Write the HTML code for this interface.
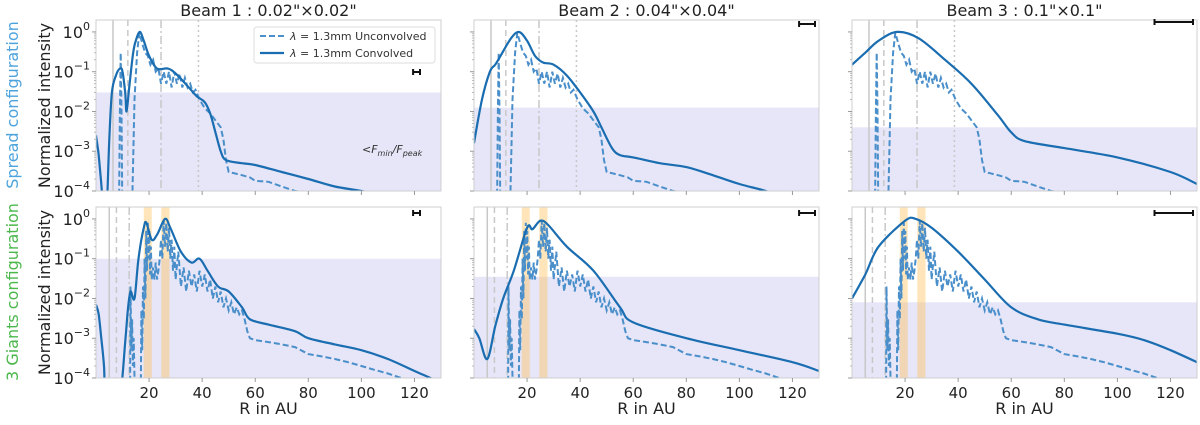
<!DOCTYPE html>
<html><head><meta charset="utf-8"><style>
body{margin:0;background:#fff;}
svg text{font-family:"DejaVu Sans","Liberation Sans",sans-serif;}
</style></head><body>
<svg id="chart" width="1200" height="420" viewBox="0 0 1200 420" xmlns="http://www.w3.org/2000/svg"></svg>
<script>
const beamTitles = ['Beam 1 : 0.02"\u00d70.02"','Beam 2 : 0.04"\u00d70.04"','Beam 3 : 0.1"\u00d70.1"'];
const xTicks = [20,40,60,80,100,120];
const yTickExp = [0,-1,-2,-3,-4];
const shadeTop = [0.03,0.0125,0.004];
const shadeBot = [0.1,0.035,0.008];
const beamWidthAU = [2.6,6,14.5];
const vlinesTop = [6.4,12,24.5,38.6];
const vlinesBot = [5,7.7,12.5];
const bandsBot = [[18,21],[24.6,27.7]];
// top-row unconvolved
const topUR = [8.6,9.0,9.3,9.6,10.0,13.4,14.5,15.5,16.3,17.5,
 18.5,19.5,20.5,21.5,22.5,23.5,24.5,25.5,26.5,27.5,
 28.5,29.5,30.5,31.5,32.5,33.5,34.5,35.5,36.5,37.5,
 39,41,43,45,47,48,49,50,52,55,
 58,60,65,70,75,80,85,90];
const topUV = [1e-5,0.01,0.3,0.01,1e-5,1e-5,0.02,0.3,0.95,0.5,
 0.3,0.25,0.15,0.2,0.1,0.12,0.05,0.1,0.05,0.1,
 0.04,0.1,0.05,0.09,0.04,0.07,0.04,0.05,0.03,0.035,
 0.02,0.012,0.009,0.006,0.004,0.002,0.0006,0.0003,0.00028,0.00025,
 0.00022,0.00018,0.00017,0.00013,0.0001,0.00009,0.00007,0.00005];
// bottom-row unconvolved
const botUR = [12.8,13.0,13.3,13.6,13.9,14.2,14.5,14.8,16.8,17.1,
 17.4,17.7,18.0,18.3,18.6,18.9,19.2,19.5,19.8,20.1,
 20.4,20.7,21.0,21.5,22,22.5,23,23.5,24,24.5,
 25,25.5,26,26.5,27,27.5,28,28.5,29,29.5,
 30,31,32,33,34,35,36,37,38,39,
 40,41,42,43,44,45,46,47,48,49,
 50,51,52,53,54,55,56,57,58,60,
 65,70,75,80,85,90,95,100,105,110,
 115,120];
const botUV = [1e-5,0.02,0.0005,0.003,0.0002,0.001,0.0001,1e-5,1e-5,0.005,
 0.0005,0.02,0.003,0.1,0.01,0.5,0.05,0.8,0.1,0.5,
 0.04,0.2,0.03,0.06,0.03,0.08,0.03,0.05,0.1,0.3,
 0.1,0.9,0.2,0.8,0.15,0.6,0.1,0.3,0.05,0.2,
 0.03,0.15,0.02,0.06,0.015,0.05,0.02,0.04,0.015,0.05,
 0.02,0.04,0.015,0.03,0.01,0.02,0.008,0.015,0.006,0.01,
 0.005,0.008,0.004,0.006,0.004,0.005,0.003,0.0015,0.001,0.0009,
 0.0008,0.0007,0.0006,0.0004,0.00035,0.0003,0.00025,0.0002,0.00016,0.00013,
 0.0001,0.00007];
// convolved
const c1tR = [0,1,2,3,4,5,6,7.5,9,10,11,11.5,12.5,14,15,16.5,18,20,23,27,30,35,38,41,43,45,47,49,55,60,70,80,90,100,110];
const c1tV = [0.0025,0.0008,0.00015,0.00002,0.00003,0.002,0.03,0.08,0.12,0.1,0.03,0.01,0.04,0.3,0.6,1.0,0.6,0.25,0.12,0.12,0.09,0.04,0.024,0.017,0.009,0.003,0.001,0.0006,0.0005,0.00045,0.0003,0.0002,0.00013,0.0001,0.00007];
const c2tR = [0,3,6,8,10,14,17,20,23,26,30,35,40,45,48,52,55,60,70,80,90,100,110,120];
const c2tV = [0.0016,0.02,0.1,0.15,0.25,0.7,1.0,0.6,0.25,0.17,0.15,0.08,0.03,0.01,0.004,0.0012,0.0008,0.0007,0.0005,0.0004,0.00025,0.00015,0.0001,0.00006];
const c3tR = [0,5,10,17,25,35,45,55,60,65,80,100,120,130];
const c3tV = [0.15,0.3,0.6,1.0,0.7,0.2,0.05,0.008,0.003,0.0018,0.0012,0.0007,0.0003,0.00015];
const c1bR = [0,1,2,3,3.6,6,9,11,12,13,14.5,16,18,19,21,23,26,28,32,36,39,42,46,50,55,58,65,75,80,90,100,110,120,126,130];
const c1bV = [0.007,0.004,0.001,0.0002,0.00003,0.00002,0.00003,0.0008,0.005,0.015,0.01,0.1,0.6,0.8,0.3,0.4,1.0,0.6,0.15,0.08,0.1,0.05,0.02,0.015,0.006,0.003,0.0022,0.0015,0.001,0.0007,0.0005,0.0003,0.00015,0.0001,0.00007];
const c2bR = [0,2,5,8,11,15,20,22,25,28,35,45,55,60,80,100,120,130];
const c2bV = [0.0017,0.001,0.0003,0.002,0.01,0.05,0.6,0.55,0.9,0.7,0.2,0.05,0.006,0.0025,0.001,0.0005,0.00025,0.00015];
const c3bR = [0,5,10,20,24,30,40,50,60,70,80,100,110,120,130];
const c3bV = [0.01,0.04,0.2,0.9,1.0,0.6,0.15,0.03,0.006,0.003,0.0022,0.0013,0.0009,0.0005,0.00025];

const panelsL = [96,474,852], PW = 345;
const rowsT = [20,207], PH = 171;
const logMax = 0.3, logMin = -4, xMax = 130;
const svg = document.getElementById('chart');
const NS = 'http://www.w3.org/2000/svg';
function mk(tag, attrs, parent){const e=document.createElementNS(NS,tag);for(const k in attrs)e.setAttribute(k,attrs[k]);(parent||svg).appendChild(e);return e;}
function xs(c,r){return panelsL[c]+PW*r/xMax;}
function ys(row,v){const l=Math.max(Math.log10(v),-6);return rowsT[row]+PH*(logMax-l)/(logMax-logMin);}
function smooth(pts){let d='M'+pts[0][0].toFixed(1)+','+pts[0][1].toFixed(1);
 for(let i=0;i<pts.length-1;i++){const p0=pts[Math.max(i-1,0)],p1=pts[i],p2=pts[i+1],p3=pts[Math.min(i+2,pts.length-1)];
 const c1=[p1[0]+(p2[0]-p0[0])/6,p1[1]+(p2[1]-p0[1])/6],c2=[p2[0]-(p3[0]-p1[0])/6,p2[1]-(p3[1]-p1[1])/6];
 d+=' C'+c1[0].toFixed(1)+','+c1[1].toFixed(1)+' '+c2[0].toFixed(1)+','+c2[1].toFixed(1)+' '+p2[0].toFixed(1)+','+p2[1].toFixed(1);}return d;}
function poly(pts){return 'M'+pts.map(p=>p[0].toFixed(1)+','+p[1].toFixed(1)).join(' L');}

const conv = [[c1tR,c1tV],[c2tR,c2tV],[c3tR,c3tV],[c1bR,c1bV],[c2bR,c2bV],[c3bR,c3bV]];
for(let row=0;row<2;row++){for(let c=0;c<3;c++){
 const L=panelsL[c],T=rowsT[row];
 const g=mk('g',{});
 
 
 const cid='clip'+row+c;
 const cp=mk('clipPath',{id:cid},g);mk('rect',{x:L,y:T,width:PW,height:PH},cp);
 const sv=(row===0?shadeTop:shadeBot)[c];
 const sh=mk('rect',{x:L,y:ys(row,sv),width:PW,height:T+PH-ys(row,sv),fill:'#e6e6f8'},g);
 
 
 if(row===1){for(const b of bandsBot){const br=mk('rect',{x:xs(c,b[0]),y:T,width:xs(c,b[1])-xs(c,b[0]),height:PH,fill:'rgba(255,190,80,0.4)'},g);
  
  }}
 const vl=row===0?vlinesTop:vlinesBot;const dashes=['', '6,4','8,3,2,3','2,3'];
 vl.forEach((r,i)=>{const ln=mk('line',{x1:xs(c,r),x2:xs(c,r),y1:T,y2:T+PH,stroke:'#c8c8c8','stroke-width':1.5,'stroke-dasharray':dashes[i]},g);
  
  });
 const UR=row===0?topUR:botUR, UV=row===0?topUV:botUV;
 const up=UR.map((r,i)=>[xs(c,r),ys(row,UV[i])]);
 const pu=mk('path',{d:poly(up),fill:'none',stroke:'#4a8fca','stroke-width':2,'stroke-dasharray':'6,3','clip-path':'url(#'+cid+')'},g);
 
 
 const cv=conv[row*3+c];
 const cpn=cv[0].map((r,i)=>[xs(c,r),ys(row,cv[1][i])]);
 const pc=mk('path',{d:smooth(cpn),fill:'none',stroke:'#1a6db0','stroke-width':2.2,'clip-path':'url(#'+cid+')'},g);
 
 
 mk('rect',{x:L,y:T,width:PW,height:PH,fill:'none',stroke:'#cfcfcf','stroke-width':1},g);
 for(const t of xTicks){mk('line',{x1:xs(c,t),x2:xs(c,t),y1:T+PH,y2:T+PH+4,stroke:'#999'},g);
  if(row===1){const tx=mk('text',{x:xs(c,t),y:T+PH+20,'font-size':15,'text-anchor':'middle',fill:'#222'},g);tx.textContent=t;
   
   }}
 for(const e of yTickExp){const y=ys(row,Math.pow(10,e));mk('line',{x1:L-4,x2:L,y1:y,y2:y,stroke:'#999'},g);
  for(let m=2;m<10;m++){const ym=ys(row,m*Math.pow(10,e));if(ym>=T)mk('line',{x1:L-2,x2:L,y1:ym,y2:ym,stroke:'#bbb'},g);}
  if(c===0){const tx=mk('text',{x:L-6,y:y+6,'font-size':16,'text-anchor':'end',fill:'#222'},g);
   tx.innerHTML='10<tspan dy="-8" font-size="11">'+(e===0?'0':'\u2212'+(-e))+'</tspan>';
   
   }}
 const bw=PW*beamWidthAU[c]/xMax, bx2=L+PW-4-(c===0?17:0), by=row===0?(c===0?72:(c===1?24:22)):213;
 const bb=mk('g',{stroke:'#111','stroke-width':2},g);
 
 
 mk('line',{x1:bx2-bw,x2:bx2,y1:by,y2:by},bb);mk('line',{x1:bx2-bw,x2:bx2-bw,y1:by-3,y2:by+3},bb);mk('line',{x1:bx2,x2:bx2,y1:by-3,y2:by+3},bb);
 if(c===0){const yl=mk('text',{transform:'translate(50,'+(T+PH/2)+') rotate(-90)','font-size':16,'text-anchor':'middle',fill:'#222'},g);yl.textContent='Normalized intensity';
  
  }
 if(row===0){const tt=mk('text',{x:L+PW/2,y:16,'font-size':16,'text-anchor':'middle',fill:'#222'},g);tt.textContent=beamTitles[c];
  
  }
 else{const xl=mk('text',{x:L+PW/2,y:414,'font-size':16,'text-anchor':'middle',fill:'#222'},g);xl.textContent='R in AU';
  
  }
}}
const rl1=mk('text',{transform:'translate(18,105) rotate(-90)','font-size':16,'text-anchor':'middle',fill:'#4da3dc'});rl1.textContent='Spread configuration';


const rl2=mk('text',{transform:'translate(18,292) rotate(-90)','font-size':16,'text-anchor':'middle',fill:'#4cb84c'});rl2.textContent='3 Giants configuration';


const lg=mk('g',{});


mk('rect',{x:254,y:27,width:181,height:36,rx:3,fill:'#fff','fill-opacity':0.85,stroke:'#ddd'},lg);
mk('line',{x1:260,x2:284,y1:36,y2:36,stroke:'#4a8fca','stroke-width':2,'stroke-dasharray':'6,3'},lg);
mk('line',{x1:260,x2:284,y1:53,y2:53,stroke:'#1a6db0','stroke-width':2.2},lg);
const t1=mk('text',{x:290,y:40,'font-size':11,fill:'#333'},lg);t1.innerHTML='<tspan font-style="italic">λ</tspan> = 1.3mm Unconvolved';


const t2=mk('text',{x:290,y:57,'font-size':11,fill:'#333'},lg);t2.innerHTML='<tspan font-style="italic">λ</tspan> = 1.3mm Convolved';


const fl=mk('text',{x:362,y:153,'font-size':11,fill:'#333','font-style':'italic'});fl.innerHTML='&lt;F<tspan dy="3" font-size="8">min</tspan><tspan dy="-3">/F</tspan><tspan dy="3" font-size="8">peak</tspan>';


</script>
</body></html>
